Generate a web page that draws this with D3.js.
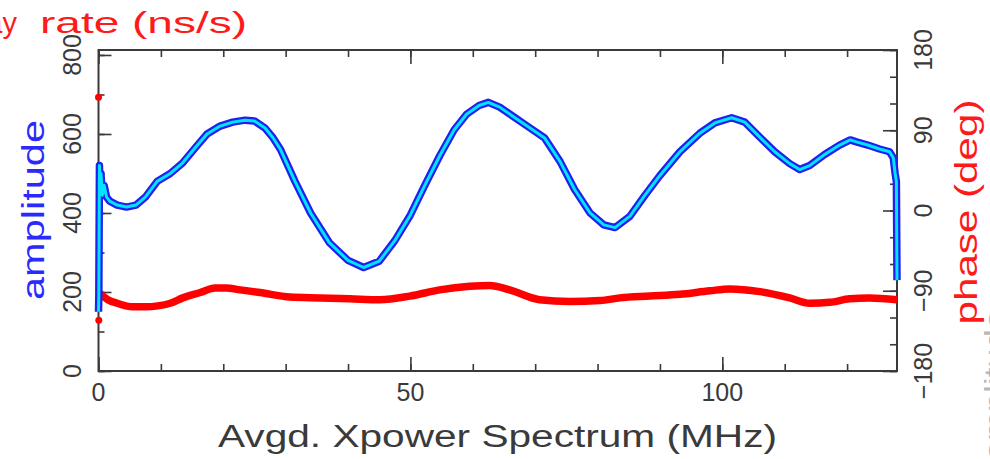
<!DOCTYPE html>
<html><head><meta charset="utf-8">
<script src="https://cdn.jsdelivr.net/npm/d3@7"></script>
<style>body{margin:0;background:#fff} svg{display:block}</style>
</head><body><svg id="c" width="990" height="459"></svg>
<script>
// ---- data ----
const ampFreq = [0, 0.05, 0.15, 0.25, 0.4, 0.6, 0.9, 1.3, 1.8, 2.4, 3, 4.5, 6, 7.5, 9.4, 11.5, 13.5, 15.5, 17.4, 19.5, 21.5, 23.5, 25, 26.7, 28, 29.2, 31.5, 34, 37, 40, 42.5, 45, 47.5, 50, 52.3, 54.7, 57, 59, 61, 62.5, 64.3, 66.7, 69, 71.5, 74, 76.3, 78.8, 81, 82.8, 85.2, 87.6, 90, 93.2, 96.4, 98.8, 101.5, 103.6, 106, 108.4, 110.8, 112.4, 114, 116.4, 118.8, 120.5, 121.5, 123.3, 125.2, 126.8, 127.4, 127.7, 127.9, 128];
const ampVal  = [150, 190, 520, 460, 500, 445, 470, 440, 430, 425, 420, 415, 420, 440, 480, 500, 527, 565, 600, 620, 630, 635, 633, 615, 590, 560, 480, 400, 325, 280, 262, 278, 330, 395, 470, 545, 610, 650, 672, 680, 668, 642, 617, 590, 530, 460, 400, 370, 363, 392, 445, 495, 555, 602, 628, 641, 630, 592, 555, 525, 510, 520, 548, 572, 585, 580, 572, 562, 555, 540, 500, 480, 230];
const phaseFreq = [0.2, 1.5, 3, 5.5, 7.5, 9.5, 11.5, 13.5, 16.3, 18.7, 20.5, 22.7, 25.9, 30.7, 35.5, 40.3, 45.1, 49.9, 54.7, 59.5, 62.7, 65.9, 70.7, 75.5, 80.4, 83.6, 88.4, 93.2, 98, 101.2, 106, 110.8, 114, 117.2, 120.4, 123.6, 128];
const phaseVal  = [-93, -100, -104, -108, -108, -107, -104, -98, -92, -87, -87, -89, -92, -97, -98, -99, -100, -96, -89, -85, -84, -89, -100, -102, -101, -98, -96, -94, -90, -88, -91, -98, -104, -103, -99, -98, -100];
const phaseOutFreq = [0, 0.05];
const phaseOutVal  = [127, -123];
const xTickLabels = [0, 50, 100];
const ampTickLabels = [0, 200, 400, 600, 800];
const phaseTickLabels = [-180, -90, 0, 90, 180];

// ---- layout ----
const L = 98.5, R = 897, T = 50, B = 371;
const svg = d3.select("#c");
const x = d3.scaleLinear([0, 128], [L, R]);
const yA = d3.scaleLinear([0, 812.6], [B, T]);
const yP = d3.scaleLinear([-180, 180], [B, T]);
const FONT = "'Liberation Sans', Arial, sans-serif";
const AX = "#3a3a3a";

function styleAxis(g) {
  g.select(".domain").remove();
  g.selectAll("line").attr("stroke", AX).attr("stroke-width", 1.6);
}
// bottom / top ticks
svg.append("g").attr("transform", `translate(0,${B})`)
  .call(d3.axisBottom(x).tickValues(d3.range(0, 129, 10)).tickSize(-7).tickFormat("")).call(styleAxis);
svg.append("g").attr("transform", `translate(0,${B})`)
  .call(d3.axisBottom(x).tickValues(xTickLabels).tickSize(-14).tickFormat("")).call(styleAxis);
svg.append("g").attr("transform", `translate(0,${T})`)
  .call(d3.axisTop(x).tickValues(d3.range(0, 129, 10)).tickSize(-7).tickFormat("")).call(styleAxis);
svg.append("g").attr("transform", `translate(0,${T})`)
  .call(d3.axisTop(x).tickValues(xTickLabels).tickSize(-14).tickFormat("")).call(styleAxis);
// left ticks (amplitude)
svg.append("g").attr("transform", `translate(${L},0)`)
  .call(d3.axisLeft(yA).tickValues(d3.range(0, 801, 100)).tickSize(-6).tickFormat("")).call(styleAxis);
svg.append("g").attr("transform", `translate(${L},0)`)
  .call(d3.axisLeft(yA).tickValues(ampTickLabels).tickSize(-13).tickFormat("")).call(styleAxis);
// right ticks (phase)
svg.append("g").attr("transform", `translate(${R},0)`)
  .call(d3.axisRight(yP).tickValues(d3.range(-180, 181, 30)).tickSize(-7).tickFormat("")).call(styleAxis);
svg.append("g").attr("transform", `translate(${R},0)`)
  .call(d3.axisRight(yP).tickValues(phaseTickLabels).tickSize(-14).tickFormat("")).call(styleAxis);

// frame
svg.append("rect").attr("x", L).attr("y", T).attr("width", R - L).attr("height", B - T)
  .attr("fill", "none").attr("stroke", AX).attr("stroke-width", 2);

// tick labels
svg.append("g").selectAll("text").data(xTickLabels).join("text")
  .attr("x", d => x(d)).attr("y", 401).attr("text-anchor", "middle")
  .attr("font-family", FONT).attr("font-size", 25).attr("fill", AX)
  .text(d => d);
svg.append("g").selectAll("text").data(ampTickLabels).join("text")
  .attr("transform", d => `translate(81,${yA(d)}) rotate(-90)`)
  .attr("text-anchor", "middle")
  .attr("font-family", FONT).attr("font-size", 25).attr("fill", AX)
  .text(d => d);
svg.append("g").selectAll("text").data(phaseTickLabels).join("text")
  .attr("transform", d => `translate(932,${yP(d)}) rotate(-90)`)
  .attr("text-anchor", "middle")
  .attr("font-family", FONT).attr("font-size", 25).attr("fill", AX)
  .text(d => (d < 0 ? "\u2212" + Math.abs(d) : d));

// axis titles
svg.append("text").attr("x", 497.5).attr("y", 447).attr("text-anchor", "middle")
  .attr("font-family", FONT).attr("font-size", 31).attr("fill", AX)
  .attr("textLength", 559).attr("lengthAdjust", "spacingAndGlyphs")
  .text("Avgd. Xpower Spectrum (MHz)");
svg.append("text").attr("transform", "translate(44,210) rotate(-90)").attr("text-anchor", "middle")
  .attr("font-family", FONT).attr("font-size", 31).attr("fill", "#2a2aff")
  .attr("textLength", 180).attr("lengthAdjust", "spacingAndGlyphs")
  .text("amplitude");
svg.append("text").attr("transform", "translate(977,212) rotate(-90)").attr("text-anchor", "middle")
  .attr("font-family", FONT).attr("font-size", 31).attr("fill", "#ff1a1a")
  .attr("textLength", 225).attr("lengthAdjust", "spacingAndGlyphs")
  .text("phase (deg)");
// top-left title of the panel above, partly cut at the left edge (as in the reference)
svg.append("text").attr("x", 17).attr("y", 33).attr("text-anchor", "end")
  .attr("font-family", FONT).attr("font-size", 29).attr("fill", "#ff1a1a")
  .text("delay");
svg.append("text").attr("x", 40).attr("y", 33)
  .attr("font-family", FONT).attr("font-size", 29).attr("fill", "#ff1a1a")
  .attr("textLength", 207).attr("lengthAdjust", "spacingAndGlyphs")
  .text("rate (ns/s)");
// clipped label of neighbouring panel at far right
svg.append("text").attr("transform", "translate(1004,385) rotate(-90)").attr("text-anchor", "middle")
  .attr("font-family", FONT).attr("font-size", 28).attr("fill", "#b8b8b8")
  .attr("textLength", 150).attr("lengthAdjust", "spacingAndGlyphs")
  .text("amplitude");

// ---- data marks ----
const ampPts = ampFreq.map((f, i) => [f, ampVal[i]]);
const phPts = phaseFreq.map((f, i) => [f, phaseVal[i]]);
const lineA = d3.line().x(d => x(d[0])).y(d => yA(d[1]));
const lineP = d3.line().x(d => x(d[0])).y(d => yP(d[1])).curve(d3.curveMonotoneX);

svg.append("path").attr("d", lineP(phPts)).attr("fill", "none")
  .attr("stroke", "#ff0000").attr("stroke-width", 7.5).attr("stroke-linejoin", "round");
svg.append("g").selectAll("circle").data(phaseOutFreq).join("circle")
  .attr("cx", d => x(d)).attr("cy", (d, i) => yP(phaseOutVal[i])).attr("r", 3.5).attr("fill", "#ff0000");

svg.append("path").attr("d", lineA(ampPts)).attr("fill", "none")
  .attr("stroke", "#1f1fee").attr("stroke-width", 7.5).attr("stroke-linejoin", "round");
svg.append("path").attr("d", lineA(ampPts)).attr("fill", "none")
  .attr("stroke", "#00e5ff").attr("stroke-width", 3).attr("stroke-linejoin", "round");
</script></body></html>
